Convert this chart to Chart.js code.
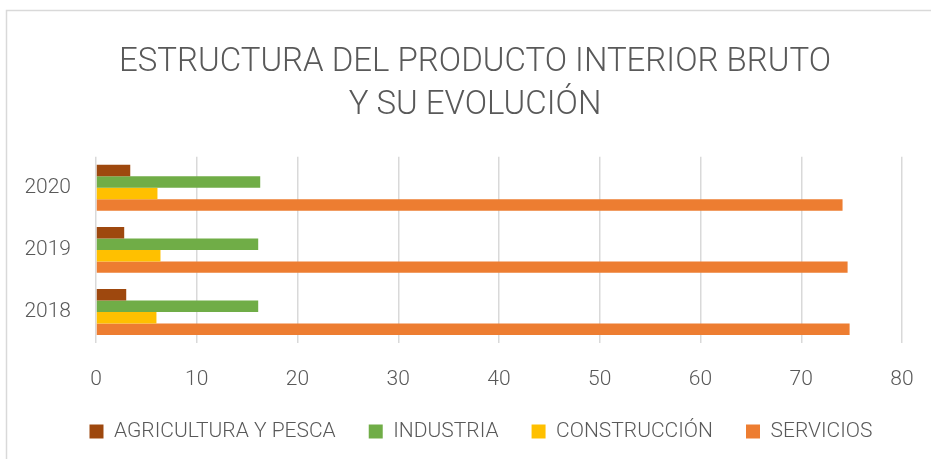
<!DOCTYPE html>
<html>
<head>
<meta charset="utf-8">
<script src="https://cdn.jsdelivr.net/npm/chart.js@4"></script>
<style>
html,body{margin:0;padding:0;background:#fff;overflow:hidden;}
#wrap{position:absolute;left:0;top:0;width:950px;height:459px;}
</style>
</head>
<body>
<div id="wrap"><canvas id="c" width="950" height="459"></canvas></div>
<script>
const titleLines = ['ESTRUCTURA DEL PRODUCTO INTERIOR BRUTO', 'Y SU EVOLUCIÓN'];
const years = ['2020', '2019', '2018'];
const agricultura = [3.4, 2.8, 3.0];
const industria = [16.3, 16.1, 16.1];
const construccion = [6.1, 6.4, 6.0];
const servicios = [74.1, 74.6, 74.8];
const seriesNames = ['AGRICULTURA Y PESCA', 'INDUSTRIA', 'CONSTRUCCIÓN', 'SERVICIOS'];
const seriesColors = ['#9E480E', '#70AD47', '#FFC000', '#ED7D31'];
const xMin = 0, xMax = 80, xStep = 10;

const FONT = "Roboto, 'Liberation Sans', Arial, sans-serif";
const TEXT = '#595959';

const framePlugin = {
  id: 'frame',
  beforeDraw(chart) {
    const ctx = chart.ctx;
    ctx.save();
    ctx.fillStyle = '#fff';
    ctx.fillRect(0, 0, chart.width, chart.height);
    ctx.strokeStyle = '#D9D9D9';
    ctx.lineWidth = 1.5;
    ctx.beginPath();
    ctx.moveTo(6.5, chart.height);
    ctx.lineTo(6.5, 10.5);
    ctx.lineTo(chart.width, 10.5);
    ctx.stroke();
    ctx.restore();
  }
};

const legendShift = {
  id: 'legendShift',
  afterLayout(chart) {
    if (chart.legend) {
      chart.legend.left += 6;
      chart.legend.right += 6;
    }
  }
};

const data = {
  labels: years,
  datasets: [agricultura, industria, construccion, servicios].map((vals, i) => ({
    label: seriesNames[i],
    data: vals,
    backgroundColor: seriesColors[i],
    borderWidth: 0,
    categoryPercentage: 0.74,
    barPercentage: 1.0
  }))
};

new Chart(document.getElementById('c'), {
  type: 'bar',
  data,
  plugins: [framePlugin, legendShift],
  options: {
    indexAxis: 'y',
    responsive: false,
    animation: false,
    devicePixelRatio: 1,
    layout: { padding: { left: 0, right: 0, top: 0, bottom: 7 } },
    plugins: {
      tooltip: { enabled: false },
      title: {
        display: true,
        text: titleLines,
        color: TEXT,
        font: { family: FONT, size: 33, weight: 300, lineHeight: 1.3 },
        padding: { top: 41, bottom: 30 }
      },
      legend: {
        position: 'bottom',
        labels: {
          color: TEXT,
          font: { family: FONT, size: 21, weight: 300 },
          boxWidth: 14,
          boxHeight: 14,
          padding: 33
        }
      }
    },
    scales: {
      x: {
        min: xMin, max: xMax,
        afterFit(s) { s.height = 45; },
        ticks: { stepSize: xStep, color: TEXT, font: { family: FONT, size: 21, weight: 300 }, padding: 24 },
        grid: { color: '#D9D9D9', lineWidth: 1.5, drawTicks: false },
        border: { display: false }
      },
      y: {
        afterFit(s) { s.width = 96; },
        ticks: { color: TEXT, font: { family: FONT, size: 21, weight: 300 }, padding: 25 },
        grid: { display: false, drawTicks: false },
        border: { display: false }
      },
      yRightSpace: {
        type: 'linear',
        position: 'right',
        display: true,
        afterFit(s) { s.width = 48; },
        ticks: { display: false },
        grid: { display: false, drawTicks: false },
        border: { display: false }
      }
    }
  }
});
</script>
</body>
</html>
